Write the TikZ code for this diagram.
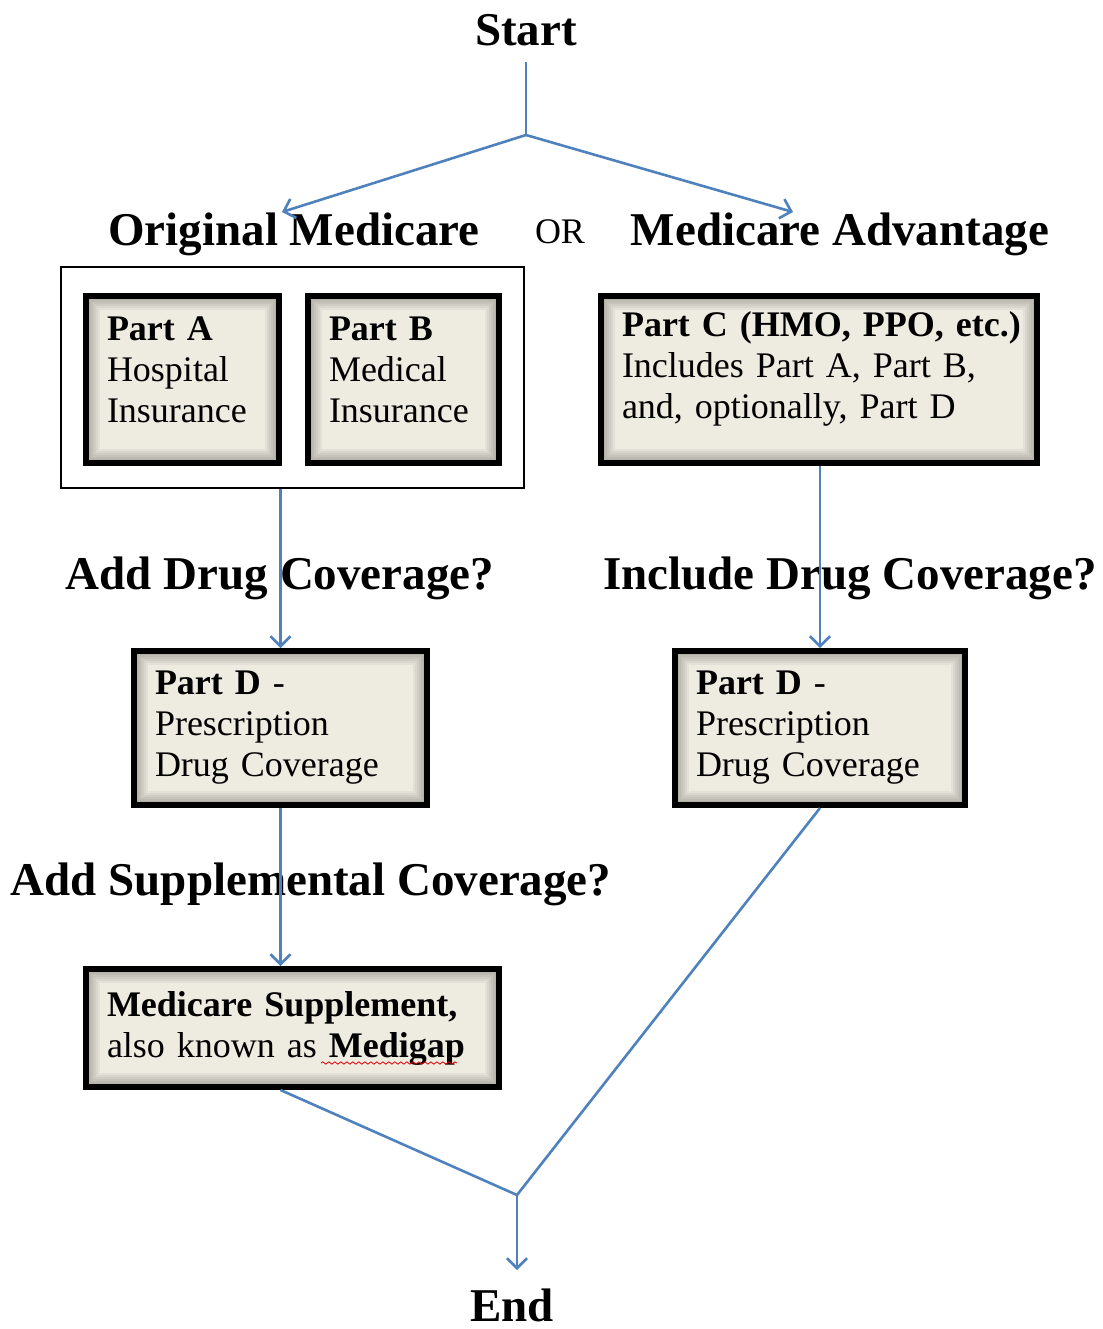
\documentclass[tikz,border=0pt]{standalone}
\usepackage{fontspec}
\setmainfont{Liberation Serif}
\usetikzlibrary{positioning,arrows.meta,decorations.pathmorphing}
\definecolor{flowblue}{RGB}{79,129,189}
\definecolor{boxfill}{RGB}{238,235,225}

\begin{document}
\begin{tikzpicture}[x=0.5pt,y=-0.5pt,
  heading/.style={font=\fontsize{23.5}{26}\selectfont\bfseries,inner sep=0pt,anchor=base},
  partbox/.style={draw=black,line width=3pt,fill=boxfill,align=left,
    inner xsep=10.5pt,inner ysep=0pt,font=\fontsize{18}{20.5}\selectfont,
    path picture={
      \foreach \w in {2,4,...,14}
        \draw[black,opacity=0.045,line width=\w pt]
          (path picture bounding box.south west) rectangle
          (path picture bounding box.north east);}},
  flow/.style={draw=flowblue,line width=1.3pt},
  flowarrow/.style={flow,-{Straight Barb[length=5pt,width=10pt]}}]

  \useasboundingbox (0,0) rectangle (1103,1329);

  % headings
  \node[heading] (start) at (526,45) {Start};
  \node[heading] (orig) at (294,245) {Original Medicare};
  \node[inner sep=0pt,anchor=base,font=\fontsize{18}{20}\selectfont] (ornode) at (560,243) {OR};
  \node[heading] (adv) at (840,245) {Medicare Advantage};
  \node[heading] (adddrug) at (280,589) {Add Drug Coverage?};
  \node[heading] (incdrug) at (850,589) {Include Drug Coverage?};
  \node[heading] (addsupp) at (311,895) {Add Supplemental Coverage?};
  \node[heading] (endnode) at (512,1321) {End};

  % boxes
  \node[draw,line width=1pt,minimum width=231.5pt,minimum height=110.5pt] (origbox) at (292.5,377.5) {};
  \node[partbox,text width=75.5pt,minimum height=83.5pt,text depth=51pt] (partA) at (182.5,379.5)
    {\textbf{Part A}\\Hospital\\Insurance};
  \node[partbox,text width=74.5pt,minimum height=83.5pt,text depth=51pt] (partB) at (403.5,379.5)
    {\textbf{Part B}\\Medical\\Insurance};
  \node[partbox,text width=197pt,minimum height=83.5pt,text depth=55pt] (partC) at (819,379.5)
    {\mbox{\textbf{Part C (HMO, PPO, etc.)}}\\Includes Part A, Part B,\\and, optionally, Part D};
  \node[partbox,text width=125.5pt,minimum height=77pt] (pdl) at (280.5,728)
    {\textbf{Part D} -\\Prescription\\Drug Coverage};
  \node[partbox,text width=124pt,minimum height=77pt] (pdr) at (820,728)
    {\textbf{Part D} -\\Prescription\\Drug Coverage};
  \node[partbox,text width=185.5pt,minimum height=59pt] (supp) at (292.5,1028)
    {\textbf{Medicare Supplement,}\\also known as \textbf{Medigap}};

  % spell check mark
  \draw[red!85!black,line width=0.4pt,decorate,
    decoration={snake,amplitude=0.6pt,segment length=3pt}] (321,1063) -- (457,1063);

  \coordinate (split) at (526,135);
  \coordinate (origtip) at (282,212);
  \coordinate (advtip) at (793,212);
  \coordinate (merge) at (517,1195);

  % connectors
  \draw[flow,shorten <=8pt] (start.south) -- (split);
  \draw[flowarrow] (split) -- (origtip);
  \draw[flowarrow] (split) -- (advtip);
  \draw[flowarrow] (pdl.north |- origbox.south) -- (pdl.north);
  \draw[flowarrow] (pdr.north |- partC.south) -- (pdr.north);
  \draw[flowarrow] (pdl.south) -- (pdl.south |- supp.north);
  \draw[flow] (supp.south -| pdl.south) -- (merge);
  \draw[flow] (pdr.south) -- (merge);
  \draw[flowarrow,shorten >=9pt] (merge) -- (merge |- endnode.north);

\end{tikzpicture}
\end{document}
